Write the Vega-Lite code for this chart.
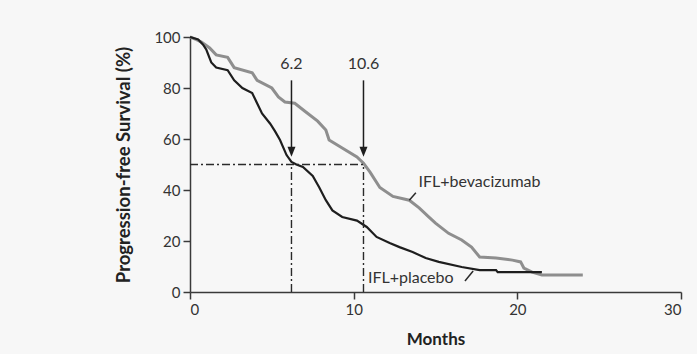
{
  "$schema": "https://vega.github.io/schema/vega-lite/v6.json",
  "width": 491,
  "height": 255,
  "autosize": {"type": "none"},
  "padding": {"left": 190, "top": 37, "right": 16, "bottom": 62},
  "background": "#f7f7f7",
  "config": {
    "view": {"stroke": null},
    "font": "Lato",
    "axis": {
      "domainColor": "#3a3a3a",
      "domainWidth": 1.5,
      "tickColor": "#3a3a3a",
      "tickWidth": 1.5,
      "tickSize": 7,
      "labelPadding": 3,
      "labelFontSize": 15,
      "labelColor": "#333333",
      "labelFont": "Lato",
      "titleFont": "Lato",
      "titleFontWeight": "bold",
      "titleColor": "#222222",
      "grid": false
    },
    "axisX": {"titlePadding": 14, "titleFontSize": 17},
    "axisY": {"titlePadding": 20, "titleFontSize": 18.5}
  },
  "datasets": {
    "km": [
      {"arm": "IFL+bevacizumab", "m": 0, "p": 100},
      {"arm": "IFL+bevacizumab", "m": 0.4, "p": 99},
      {"arm": "IFL+bevacizumab", "m": 0.7, "p": 98},
      {"arm": "IFL+bevacizumab", "m": 1.2, "p": 95.7},
      {"arm": "IFL+bevacizumab", "m": 1.6, "p": 93},
      {"arm": "IFL+bevacizumab", "m": 2.3, "p": 92},
      {"arm": "IFL+bevacizumab", "m": 2.7, "p": 88},
      {"arm": "IFL+bevacizumab", "m": 3.8, "p": 86},
      {"arm": "IFL+bevacizumab", "m": 4.1, "p": 83},
      {"arm": "IFL+bevacizumab", "m": 5.0, "p": 80},
      {"arm": "IFL+bevacizumab", "m": 5.4, "p": 76.5},
      {"arm": "IFL+bevacizumab", "m": 5.8, "p": 74.5},
      {"arm": "IFL+bevacizumab", "m": 6.4, "p": 74},
      {"arm": "IFL+bevacizumab", "m": 7.0, "p": 71},
      {"arm": "IFL+bevacizumab", "m": 7.8, "p": 67},
      {"arm": "IFL+bevacizumab", "m": 8.3, "p": 63.5},
      {"arm": "IFL+bevacizumab", "m": 8.5, "p": 59.6},
      {"arm": "IFL+bevacizumab", "m": 9.3, "p": 56.5},
      {"arm": "IFL+bevacizumab", "m": 10.2, "p": 53},
      {"arm": "IFL+bevacizumab", "m": 10.6, "p": 50.5},
      {"arm": "IFL+bevacizumab", "m": 11.0, "p": 47},
      {"arm": "IFL+bevacizumab", "m": 11.6, "p": 41},
      {"arm": "IFL+bevacizumab", "m": 12.4, "p": 37.5},
      {"arm": "IFL+bevacizumab", "m": 13.4, "p": 36},
      {"arm": "IFL+bevacizumab", "m": 14.0, "p": 33},
      {"arm": "IFL+bevacizumab", "m": 14.6, "p": 29.4},
      {"arm": "IFL+bevacizumab", "m": 15.0, "p": 27},
      {"arm": "IFL+bevacizumab", "m": 15.8, "p": 23},
      {"arm": "IFL+bevacizumab", "m": 16.6, "p": 20.4},
      {"arm": "IFL+bevacizumab", "m": 17.2, "p": 17.6},
      {"arm": "IFL+bevacizumab", "m": 17.7, "p": 13.7},
      {"arm": "IFL+bevacizumab", "m": 18.7, "p": 13.3},
      {"arm": "IFL+bevacizumab", "m": 19.7, "p": 12.5},
      {"arm": "IFL+bevacizumab", "m": 20.2, "p": 11.8},
      {"arm": "IFL+bevacizumab", "m": 20.4, "p": 9.4},
      {"arm": "IFL+bevacizumab", "m": 20.9, "p": 7.8},
      {"arm": "IFL+bevacizumab", "m": 21.5, "p": 6.7},
      {"arm": "IFL+bevacizumab", "m": 24.0, "p": 6.7},
      {"arm": "IFL+placebo", "m": 0, "p": 100},
      {"arm": "IFL+placebo", "m": 0.5, "p": 99},
      {"arm": "IFL+placebo", "m": 0.8, "p": 97},
      {"arm": "IFL+placebo", "m": 1.0, "p": 95},
      {"arm": "IFL+placebo", "m": 1.3, "p": 90},
      {"arm": "IFL+placebo", "m": 1.6, "p": 88},
      {"arm": "IFL+placebo", "m": 2.3, "p": 87},
      {"arm": "IFL+placebo", "m": 2.7, "p": 83},
      {"arm": "IFL+placebo", "m": 3.2, "p": 80},
      {"arm": "IFL+placebo", "m": 3.8, "p": 78},
      {"arm": "IFL+placebo", "m": 4.1, "p": 74},
      {"arm": "IFL+placebo", "m": 4.4, "p": 70},
      {"arm": "IFL+placebo", "m": 4.9, "p": 66},
      {"arm": "IFL+placebo", "m": 5.2, "p": 63},
      {"arm": "IFL+placebo", "m": 5.5, "p": 59.6},
      {"arm": "IFL+placebo", "m": 5.9, "p": 53.7},
      {"arm": "IFL+placebo", "m": 6.2, "p": 51},
      {"arm": "IFL+placebo", "m": 6.5, "p": 50},
      {"arm": "IFL+placebo", "m": 6.9, "p": 49},
      {"arm": "IFL+placebo", "m": 7.5, "p": 45.5},
      {"arm": "IFL+placebo", "m": 7.9, "p": 41},
      {"arm": "IFL+placebo", "m": 8.3, "p": 36},
      {"arm": "IFL+placebo", "m": 8.7, "p": 32},
      {"arm": "IFL+placebo", "m": 9.3, "p": 29.4},
      {"arm": "IFL+placebo", "m": 10.2, "p": 28},
      {"arm": "IFL+placebo", "m": 10.8, "p": 25.5},
      {"arm": "IFL+placebo", "m": 11.4, "p": 21.6},
      {"arm": "IFL+placebo", "m": 12.2, "p": 19.2},
      {"arm": "IFL+placebo", "m": 12.8, "p": 17.6},
      {"arm": "IFL+placebo", "m": 13.6, "p": 15.7},
      {"arm": "IFL+placebo", "m": 14.4, "p": 13.3},
      {"arm": "IFL+placebo", "m": 15.2, "p": 11.8},
      {"arm": "IFL+placebo", "m": 16.6, "p": 9.8},
      {"arm": "IFL+placebo", "m": 17.7, "p": 8.6},
      {"arm": "IFL+placebo", "m": 18.7, "p": 8.6},
      {"arm": "IFL+placebo", "m": 18.8, "p": 7.8},
      {"arm": "IFL+placebo", "m": 21.5, "p": 7.8}
    ],
    "refs": [
      {"x1": 0, "x2": 10.6, "y1": 50, "y2": 50},
      {"x1": 6.2, "x2": 6.2, "y1": 0, "y2": 50},
      {"x1": 10.6, "x2": 10.6, "y1": 0, "y2": 50}
    ],
    "leaders": [
      {"x1": 13.4, "x2": 13.8, "y1": 36, "y2": 38.9},
      {"x1": 16.8, "x2": 17.3, "y1": 4.3, "y2": 8.2}
    ],
    "medians": [
      {"m": 6.2, "label": "6.2", "top": 83, "bottom": 55, "tip": 53, "ytext": 89.5},
      {"m": 10.6, "label": "10.6", "top": 83, "bottom": 55, "tip": 53, "ytext": 89.5}
    ],
    "armlabels": [
      {"label": "IFL+bevacizumab", "m": 13.96, "p": 43.1},
      {"label": "IFL+placebo", "m": 10.87, "p": 5.6}
    ]
  },
  "layer": [
    {
      "data": {"name": "km"},
      "transform": [{"filter": "datum.arm === 'IFL+bevacizumab'"}],
      "mark": {"type": "line", "color": "#8e8e8e", "strokeWidth": 3, "strokeJoin": "miter"},
      "encoding": {
        "x": {"field": "m", "type": "quantitative", "title": "Months", "scale": {"domain": [0, 30], "nice": false}, "axis": {"values": [0, 10, 20, 30]}},
        "y": {"field": "p", "type": "quantitative", "title": "Progression-free Survival (%)", "scale": {"domain": [0, 100], "nice": false}, "axis": {"values": [0, 20, 40, 60, 80, 100]}},
        "order": {"field": "m", "type": "quantitative"}
      }
    },
    {
      "data": {"name": "km"},
      "transform": [{"filter": "datum.arm === 'IFL+placebo'"}],
      "mark": {"type": "line", "color": "#1e1e1e", "strokeWidth": 2.2, "strokeJoin": "miter"},
      "encoding": {
        "x": {"field": "m", "type": "quantitative", "title": "Months"},
        "y": {"field": "p", "type": "quantitative", "title": "Progression-free Survival (%)"},
        "order": {"field": "m", "type": "quantitative"}
      }
    },
    {
      "data": {"name": "refs"},
      "mark": {"type": "rule", "color": "#2a2a2a", "strokeWidth": 1.4, "strokeDash": [8, 3, 2, 3]},
      "encoding": {
        "x": {"field": "x1", "type": "quantitative", "title": "Months"},
        "x2": {"field": "x2"},
        "y": {"field": "y1", "type": "quantitative", "title": "Progression-free Survival (%)"},
        "y2": {"field": "y2"}
      }
    },
    {
      "data": {"name": "leaders"},
      "mark": {"type": "rule", "color": "#2a2a2a", "strokeWidth": 1.5},
      "encoding": {
        "x": {"field": "x1", "type": "quantitative", "title": "Months"},
        "x2": {"field": "x2"},
        "y": {"field": "y1", "type": "quantitative", "title": "Progression-free Survival (%)"},
        "y2": {"field": "y2"}
      }
    },
    {
      "data": {"name": "medians"},
      "mark": {"type": "rule", "color": "#1e1e1e", "strokeWidth": 1.5},
      "encoding": {
        "x": {"field": "m", "type": "quantitative", "title": "Months"},
        "y": {"field": "top", "type": "quantitative", "title": "Progression-free Survival (%)"},
        "y2": {"field": "bottom"}
      }
    },
    {
      "data": {"name": "medians"},
      "mark": {"type": "point", "shape": "M-1,-2.5L1,-2.5L0,0Z", "size": 64, "filled": true, "color": "#1e1e1e", "opacity": 1, "strokeWidth": 0},
      "encoding": {
        "x": {"field": "m", "type": "quantitative", "title": "Months"},
        "y": {"field": "tip", "type": "quantitative", "title": "Progression-free Survival (%)"}
      }
    },
    {
      "data": {"name": "medians"},
      "mark": {"type": "text", "fontSize": 16, "color": "#333333", "align": "center", "baseline": "middle", "font": "Lato"},
      "encoding": {
        "x": {"field": "m", "type": "quantitative", "title": "Months"},
        "y": {"field": "ytext", "type": "quantitative", "title": "Progression-free Survival (%)"},
        "text": {"field": "label"}
      }
    },
    {
      "data": {"name": "armlabels"},
      "mark": {"type": "text", "fontSize": 16, "color": "#333333", "align": "left", "baseline": "middle", "font": "Lato"},
      "encoding": {
        "x": {"field": "m", "type": "quantitative", "title": "Months"},
        "y": {"field": "p", "type": "quantitative", "title": "Progression-free Survival (%)"},
        "text": {"field": "label"}
      }
    }
  ]
}
